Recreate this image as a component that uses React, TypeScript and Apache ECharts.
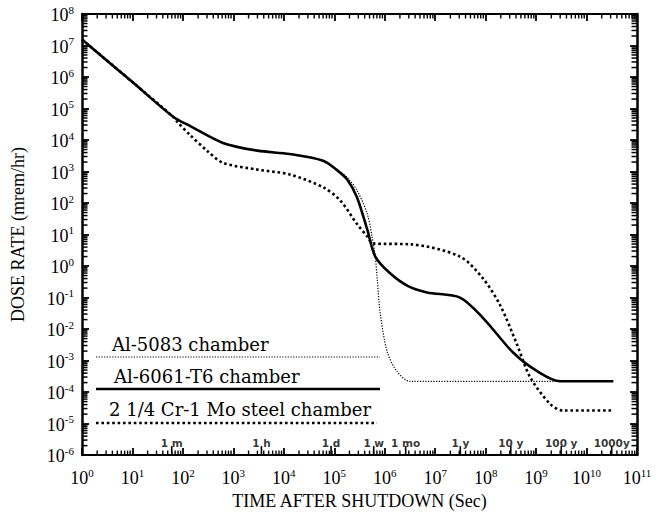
import React, { useEffect, useRef } from "react";
import * as echarts from "echarts";

// Al-6061-T6 chamber (solid)
const al6061Time = [1, 10, 63, 138, 620, 3000, 13000, 60000, 1.1e5, 1.8e5, 2.8e5, 4.5e5, 6.5e5, 1.26e6, 2.9e6, 6.9e6, 3.1e7, 9e7, 3.5e8, 1.05e9, 3e9, 3.4e10];
const al6061Dose = [1.55e7, 6.9e5, 5.6e4, 2.8e4, 8.1e3, 4.6e3, 3.6e3, 2.2e3, 1.15e3, 560, 155, 14.5, 2.0, 0.6, 0.23, 0.145, 0.1, 0.022, 1.8e-3, 4.6e-4, 2.2e-4, 2.2e-4];

// Al-5083 chamber (thin dotted)
const al5083Time = [1, 10, 63, 138, 620, 3000, 13000, 60000, 1.1e5, 1.8e5, 2.8e5, 4.5e5, 5.6e5, 6.5e5, 7.1e5, 8.1e5, 1.12e6, 1.74e6, 3.2e6, 3.4e10];
const al5083Dose = [1.55e7, 6.9e5, 5.6e4, 2.8e4, 8.1e3, 4.6e3, 3.6e3, 2.2e3, 1.15e3, 650, 257, 46, 8.7, 2.0, 0.39, 0.034, 1.9e-3, 4.6e-4, 2.2e-4, 2.2e-4];

// 2 1/4 Cr-1 Mo steel chamber (thick dotted)
const steelTime = [1, 10, 63, 76, 138, 300, 620, 3000, 13000, 60000, 1.3e5, 2.8e5, 4.5e5, 5.9e5, 3.2e6, 3.1e7, 9e7, 1.95e8, 4.2e8, 7.6e8, 1.9e9, 3.4e9, 3.4e10];
const steelDose = [1.55e7, 6.9e5, 5.6e4, 3.9e4, 1.45e4, 4.6e3, 1.9e3, 1.15e3, 810, 316, 123, 22, 8.7, 5.2, 4.9, 2.0, 0.39, 0.056, 3.2e-3, 3.0e-4, 4.2e-5, 2.6e-5, 2.6e-5];

// time markers
const markerLabels = ["1 m", "1 h", "1 d", "1 w", "1 mo", "1 y", "10 y", "100 y", "1000y"];
const markerSeconds = [60, 3600, 86400, 604800, 2.6e6, 3.15e7, 3.15e8, 3.15e9, 3.15e10];

const legendNames = ["Al-5083 chamber", "Al-6061-T6 chamber", "2 1/4 Cr-1 Mo steel chamber"];

const xMinExp = 0, xMaxExp = 11, yMinExp = -6, yMaxExp = 8;

function minorTicks(lo: number, hi: number): number[] {
  const out: number[] = [];
  for (let e = lo; e < hi; e++) for (let m = 2; m <= 9; m++) out.push(m * Math.pow(10, e));
  return out;
}

const serif = "Liberation Serif";

function expLabel(v: number) {
  const e = Math.round(Math.log10(v));
  return `{b|10}{s|${e}}`;
}

export default function App() {
  const ref = useRef<HTMLDivElement>(null);
  useEffect(() => {
    if (!ref.current) return;
    const chart = echarts.init(ref.current, null, { renderer: "svg" });
    const pair = (t: number[], d: number[]) => t.map((x, i) => [x, d[i]]);
    const rich = {
      b: { fontSize: 18, fontFamily: serif, color: "#000", lineHeight: 20, verticalAlign: "bottom" },
      s: { fontSize: 11, fontFamily: serif, color: "#000", lineHeight: 20, verticalAlign: "top" },
    };
    const baseX = {
      type: "log", logBase: 10, min: Math.pow(10, xMinExp), max: Math.pow(10, xMaxExp),
      splitNumber: 11, interval: 1,
      axisLine: { show: true, lineStyle: { color: "#000", width: 2 } },
      axisTick: { show: true, inside: true, length: 7, lineStyle: { color: "#000", width: 1.8 } },
      splitLine: { show: false },
    };
    const baseY = {
      type: "log", logBase: 10, min: Math.pow(10, yMinExp), max: Math.pow(10, yMaxExp),
      splitNumber: 14, interval: 1,
      axisLine: { show: true, lineStyle: { color: "#000", width: 2.5 } },
      axisTick: { show: true, inside: true, length: 7, lineStyle: { color: "#000", width: 1.8 } },
      splitLine: { show: false },
    };

    const legendX1 = 96, legendX2 = 380;
    const legendFont = "18px 'DejaVu Serif'";
    const makeLegend = (): any[] => [
      { type: "text", left: 112, top: 335, style: { text: legendNames[0], font: legendFont, fill: "#000" } },
      { type: "line", shape: { x1: legendX1, y1: 357, x2: legendX2, y2: 357 }, style: { stroke: "#000", lineWidth: 1.2, lineDash: [1.2, 1.5] } },
      { type: "text", left: 114, top: 367, style: { text: legendNames[1], font: legendFont, fill: "#000" } },
      { type: "line", shape: { x1: legendX1, y1: 389, x2: legendX2, y2: 389 }, style: { stroke: "#000", lineWidth: 2.6 } },
      { type: "text", left: 109, top: 400, style: { text: legendNames[2], font: legendFont, fill: "#000" } },
      { type: "line", shape: { x1: legendX1, y1: 423, x2: legendX2 - 3, y2: 423 }, style: { stroke: "#000", lineWidth: 2.6, lineDash: [2.6, 2.8] } },
    ];

    chart.setOption({
      animation: false,
      backgroundColor: "#fff",
      grid: { left: 82, right: 29, top: 14, bottom: 53, containLabel: false },
      xAxis: [
        {
          ...baseX, position: "bottom",
          name: "TIME AFTER SHUTDOWN (Sec)", nameLocation: "middle", nameGap: 36,
          nameTextStyle: { fontFamily: serif, fontSize: 18, color: "#000" },
          axisLabel: { show: true, formatter: expLabel, rich, margin: 12, showMinLabel: true, showMaxLabel: true },
        },
        { ...baseX, position: "top", axisLabel: { show: false } },
      ],
      yAxis: [
        {
          ...baseY, position: "left",
          name: "DOSE RATE (mrem/hr)", nameLocation: "middle", nameGap: 55, nameRotate: 90,
          nameTextStyle: { fontFamily: serif, fontSize: 18, color: "#000" },
          axisLabel: { show: true, formatter: expLabel, rich, margin: 8, showMinLabel: true, showMaxLabel: true },
        },
        { ...baseY, position: "right", axisLabel: { show: false } },
      ],
      series: [
        {
          name: legendNames[0], type: "line", data: pair(al5083Time, al5083Dose), showSymbol: false, smooth: 0.3,
          lineStyle: { color: "#000", width: 1.2, type: [1.2, 1.5] }, z: 3,
        },
        {
          name: legendNames[1], type: "line", data: pair(al6061Time, al6061Dose), showSymbol: false, smooth: 0.3,
          lineStyle: { color: "#000", width: 2.6, type: "solid" }, z: 4,
        },
        {
          name: legendNames[2], type: "line", data: pair(steelTime, steelDose), showSymbol: false, smooth: 0.3,
          lineStyle: { color: "#000", width: 2.6, type: [2.6, 2.8] }, z: 4,
        },
        {
          type: "scatter", symbolSize: 0, silent: true,
          data: markerSeconds.map((t) => [t, 3.2e-6]),
          label: {
            show: true, position: "inside", offset: [0, 4],
            formatter: (p: any) => markerLabels[p.dataIndex],
            fontFamily: "DejaVu Sans", fontSize: 10.5, fontWeight: "bold", color: "#000",
          },
        },
      ],
      graphic: makeLegend(),
    });

    // minor ticks on all four sides, positioned through the axes' own scales
    const toX = (v: number) => chart.convertToPixel({ xAxisIndex: 0 }, v) as number;
    const toY = (v: number) => chart.convertToPixel({ yAxisIndex: 0 }, v) as number;
    const x0 = toX(Math.pow(10, xMinExp));
    const x1 = toX(Math.pow(10, xMaxExp));
    const y0 = toY(Math.pow(10, yMinExp));
    const y1 = toY(Math.pow(10, yMaxExp));
    const ticks: any[] = [];
    const len = 4.5;
    const tick = (a: number, b: number, c: number, d: number, w: number) =>
      ticks.push({ type: "line", z: 10, shape: { x1: a, y1: b, x2: c, y2: d }, style: { stroke: "#000", lineWidth: w } });
    minorTicks(xMinExp, xMaxExp).forEach((v) => {
      const px = toX(v);
      tick(px, y0, px, y0 - len, 1.4);
      tick(px, y1, px, y1 + len, 1.4);
    });
    minorTicks(yMinExp, yMaxExp).forEach((v) => {
      const py = toY(v);
      tick(x0, py, x0 + len + 1, py, 1.5);
      tick(x1, py, x1 - len - 1, py, 1.5);
    });
    markerSeconds.forEach((v) => {
      const px = toX(v);
      tick(px, y0, px, y0 - 9, 1.6);
    });
    chart.setOption({ graphic: [...makeLegend(), ...ticks] });

    return () => chart.dispose();
  }, []);
  return <div ref={ref} style={{ width: 666, height: 515, position: "absolute", left: 0, top: 0 }} />;
}
